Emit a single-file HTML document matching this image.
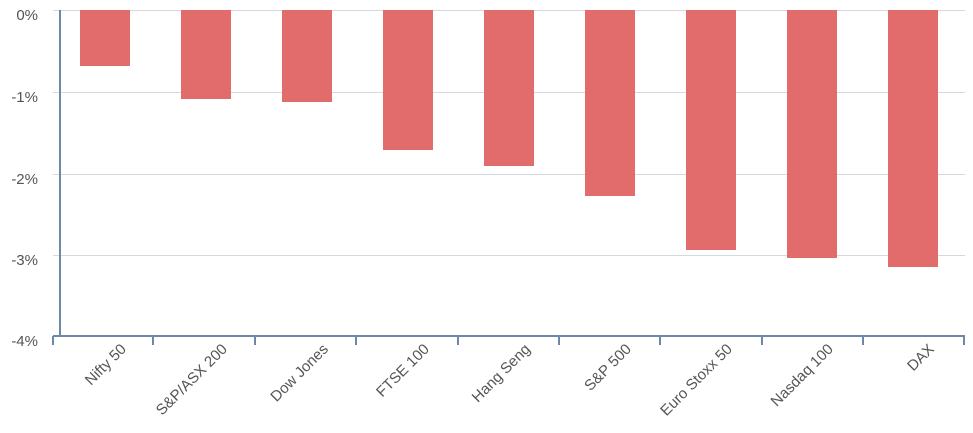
<!DOCTYPE html>
<html><head><meta charset="utf-8"><style>body{margin:0;background:#fff}svg{display:block}</style></head><body>
<svg width="973" height="433" xmlns="http://www.w3.org/2000/svg" font-family="'Liberation Sans',sans-serif">
<g stroke="#d5d9dd" stroke-width="1">
<line x1="53" x2="965" y1="10.5" y2="10.5"/>
<line x1="53" x2="965" y1="92.5" y2="92.5"/>
<line x1="53" x2="965" y1="174.5" y2="174.5"/>
<line x1="53" x2="965" y1="255.5" y2="255.5"/>
</g>
<g fill="#e26b6b">
<rect x="80" y="10" width="50" height="56"/>
<rect x="181" y="10" width="50" height="89"/>
<rect x="282" y="10" width="50" height="92"/>
<rect x="383" y="10" width="50" height="140"/>
<rect x="484" y="10" width="50" height="156"/>
<rect x="585" y="10" width="50" height="186"/>
<rect x="686" y="10" width="50" height="240"/>
<rect x="787" y="10" width="50" height="248"/>
<rect x="888" y="10" width="50" height="257"/>
</g>
<g stroke="#6d89a8" stroke-width="2">
<line x1="60" x2="60" y1="10" y2="337"/>
<line x1="53" x2="965" y1="336" y2="336"/>
<line x1="53" x2="53" y1="336" y2="345"/>
<line x1="153" x2="153" y1="336" y2="345"/>
<line x1="255" x2="255" y1="336" y2="345"/>
<line x1="356" x2="356" y1="336" y2="345"/>
<line x1="458" x2="458" y1="336" y2="345"/>
<line x1="559" x2="559" y1="336" y2="345"/>
<line x1="660" x2="660" y1="336" y2="345"/>
<line x1="762" x2="762" y1="336" y2="345"/>
<line x1="863" x2="863" y1="336" y2="345"/>
<line x1="964" x2="964" y1="336" y2="345"/>
</g>
<g fill="#555" font-size="15" text-anchor="end">
<text x="38" y="20">0%</text>
<text x="38" y="102">-1%</text>
<text x="38" y="184">-2%</text>
<text x="38" y="265">-3%</text>
<text x="38" y="346">-4%</text>
</g>
<g fill="#555" font-size="15" text-anchor="end">
<text transform="translate(127,350) rotate(-45)">Nifty 50</text>
<text transform="translate(228,350) rotate(-45)">S&amp;P/ASX 200</text>
<text transform="translate(329,350) rotate(-45)">Dow Jones</text>
<text transform="translate(430,350) rotate(-45)">FTSE 100</text>
<text transform="translate(531,350) rotate(-45)">Hang Seng</text>
<text transform="translate(632,350) rotate(-45)">S&amp;P 500</text>
<text transform="translate(733,350) rotate(-45)">Euro Stoxx 50</text>
<text transform="translate(834,350) rotate(-45)">Nasdaq 100</text>
<text transform="translate(935,350) rotate(-45)">DAX</text>
</g>
</svg>
</body></html>
